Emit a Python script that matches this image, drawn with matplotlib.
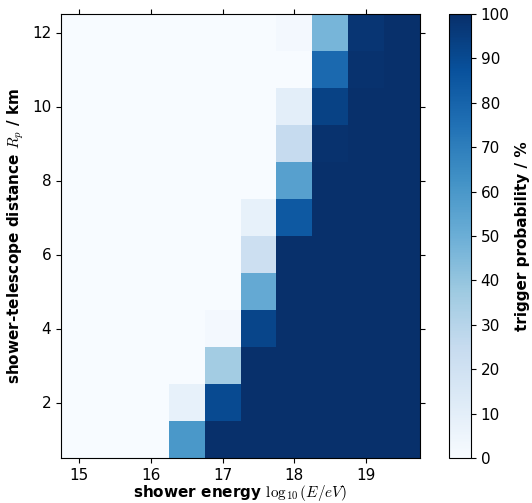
import numpy as np
import matplotlib.pyplot as plt

plt.rcParams['mathtext.fontset'] = 'cm'

# bin edges
energy_edges = [14.75, 15.25, 15.75, 16.25, 16.75, 17.25, 17.75, 18.25, 18.75, 19.25, 19.75]
distance_edges = [0.5, 1.5, 2.5, 3.5, 4.5, 5.5, 6.5, 7.5, 8.5, 9.5, 10.5, 11.5, 12.5]

# trigger probability in %, one row per distance bin (1 km ... 12 km),
# columns are energy bins 15.0 ... 19.5
prob_1km = [0, 0, 0, 60, 100, 100, 100, 100, 100, 100]
prob_2km = [0, 0, 0, 8, 90, 100, 100, 100, 100, 100]
prob_3km = [0, 0, 0, 0, 36, 100, 100, 100, 100, 100]
prob_4km = [0, 0, 0, 0, 2, 92, 100, 100, 100, 100]
prob_5km = [0, 0, 0, 0, 0, 52, 100, 100, 100, 100]
prob_6km = [0, 0, 0, 0, 0, 22, 100, 100, 100, 100]
prob_7km = [0, 0, 0, 0, 0, 8, 84, 100, 100, 100]
prob_8km = [0, 0, 0, 0, 0, 0, 56, 100, 100, 100]
prob_9km = [0, 0, 0, 0, 0, 0, 25, 99, 100, 100]
prob_10km = [0, 0, 0, 0, 0, 0, 10, 93, 100, 100]
prob_11km = [0, 0, 0, 0, 0, 0, 0, 78, 99, 100]
prob_12km = [0, 0, 0, 0, 0, 0, 2, 47, 98, 100]

prob = np.array([prob_1km, prob_2km, prob_3km, prob_4km, prob_5km, prob_6km,
                 prob_7km, prob_8km, prob_9km, prob_10km, prob_11km, prob_12km])

xticks = [15, 16, 17, 18, 19]
yticks = [2, 4, 6, 8, 10, 12]

fig = plt.figure(figsize=(5.32, 5.03), dpi=100)
ax = fig.add_axes([61/532, 1 - 458/503, (420-61)/532, (458-14)/503])
cax = fig.add_axes([449/532, 1 - 458/503, (471-449)/532, (458-14)/503])

mesh = ax.pcolormesh(energy_edges, distance_edges, prob, cmap='Blues', vmin=0, vmax=100)
ax.set_xlim(energy_edges[0], energy_edges[-1])
ax.set_ylim(distance_edges[0], distance_edges[-1])
ax.set_xticks(xticks)
ax.set_yticks(yticks)
ax.tick_params(top=True, right=True, direction='out', labelsize=11)
ax.set_xlabel(r"shower energy $\log_{10}(E/eV)$", fontweight='bold', fontsize=11, labelpad=0)
ax.set_ylabel(r"shower-telescope distance $R_p$ / km", fontweight='bold', fontsize=11)

cb = fig.colorbar(mesh, cax=cax, ticks=np.arange(0, 101, 10))
cb.ax.tick_params(labelsize=11)
cb.set_label("trigger probability / %", fontweight='bold', fontsize=11)

fig.savefig("out.png", dpi=100)
